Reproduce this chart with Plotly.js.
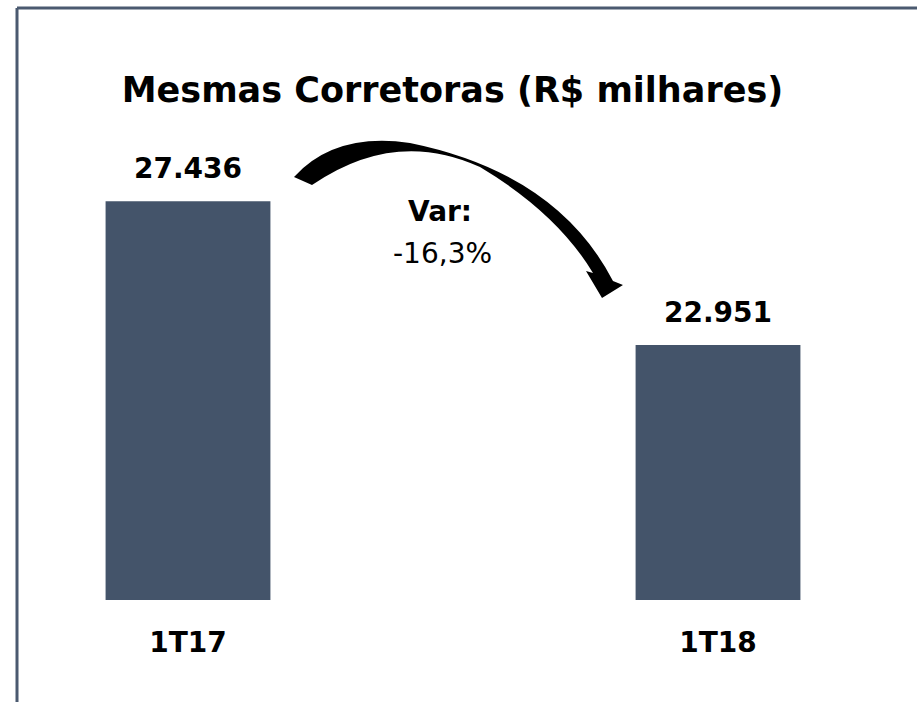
<!DOCTYPE html>
<html>
<head>
<meta charset="utf-8">
<script src="https://cdn.plot.ly/plotly-3.0.1.min.js"></script>
<style>
  html, body { margin: 0; padding: 0; background: #ffffff; overflow: hidden; }
  #chart { width: 917px; height: 702px; }
</style>
</head>
<body>
<div id="chart"></div>
<script>
// ---- data ----
const categories = ["1T17", "1T18"];
const values = [27436, 22951];
const valueLabels = ["27.436", "22.951"];
const chartTitle = "Mesmas Corretoras (R$ milhares)";
const varLabel = "Var:";
const varValue = "-16,3%";

// ---- layout geometry ----
const W = 917, H = 702;
const M = { l: 82, r: 93, t: 119, b: 102 };
const plotW = W - M.l - M.r, plotH = H - M.t - M.b;
const px = x => (x - M.l) / plotW;          // pixel -> paper x
const py = y => (H - M.b - y) / plotH;      // pixel -> paper y

const barColor = "#44546A";
const frameColor = "#4B5A70";

// Curved arrow (decoration), drawn in pixel space and converted to paper coords
const arrowCmds = [
  ["M", [294, 177]],
  ["Q", [335, 132], [410, 143]],
  ["Q", [557, 173], [613, 281]],
  ["L", [623, 285]],
  ["L", [602, 298]],
  ["L", [586, 271]],
  ["L", [593, 273]],
  ["Q", [557, 213], [480, 167]],
  ["Q", [395, 128], [312, 185]],
  ["Z"]
];
const arrowPath = arrowCmds.map(c => c[0] + " " +
  c.slice(1).map(p => px(p[0]).toFixed(5) + "," + py(p[1]).toFixed(5)).join(" ")).join(" ");

const trace = {
  type: "bar",
  x: categories,
  y: values,
  marker: { color: barColor },
  width: 0.311,
  hoverinfo: "skip"
};

const annotations = categories.map((c, i) => ({
  x: c, y: values[i], xref: "x", yref: "y",
  text: "<b>" + valueLabels[i] + "</b>",
  showarrow: false, yanchor: "middle", yshift: 33,
  font: { family: "DejaVu Sans", size: 28, color: "#000000" }
}));
annotations.push({
  x: px(440), y: py(211), xref: "paper", yref: "paper",
  text: "<b>" + varLabel + "</b>", showarrow: false,
  xanchor: "center", yanchor: "middle",
  font: { family: "DejaVu Sans", size: 28, color: "#000000" }
});
annotations.push({
  x: px(442), y: py(253), xref: "paper", yref: "paper",
  text: varValue, showarrow: false,
  xanchor: "center", yanchor: "middle",
  font: { family: "DejaVu Sans", size: 28, color: "#000000" }
});

const layout = {
  width: W, height: H,
  margin: M,
  paper_bgcolor: "#ffffff",
  plot_bgcolor: "#ffffff",
  showlegend: false,
  title: {
    text: "<b>" + chartTitle + "</b>",
    x: px(452.5), xanchor: "center",
    y: 1 - 90 / H, yanchor: "middle",
    xref: "paper",
    font: { family: "DejaVu Sans", size: 35, color: "#000000" }
  },
  xaxis: {
    type: "category",
    range: [-0.2, 1.2],
    showgrid: false, zeroline: false, showline: false,
    ticks: "",
    ticklabelstandoff: 23,
    tickfont: { family: "DejaVu Sans", size: 28, color: "#000000", weight: "bold" },
    fixedrange: true
  },
  yaxis: {
    range: [15000, 30000],
    visible: false,
    showgrid: false, zeroline: false,
    fixedrange: true
  },
  annotations: annotations,
  shapes: [
    { type: "line", xref: "paper", yref: "paper",
      x0: px(17), x1: px(917), y0: py(8), y1: py(8),
      line: { color: frameColor, width: 3 } },
    { type: "line", xref: "paper", yref: "paper",
      x0: px(17), x1: px(17), y0: py(8), y1: py(702),
      line: { color: frameColor, width: 3 } },
    { type: "path", xref: "paper", yref: "paper",
      path: arrowPath, fillcolor: "#000000",
      line: { width: 0 } }
  ]
};

Plotly.newPlot("chart", [trace], layout, { displayModeBar: false, staticPlot: true });
</script>
</body>
</html>
